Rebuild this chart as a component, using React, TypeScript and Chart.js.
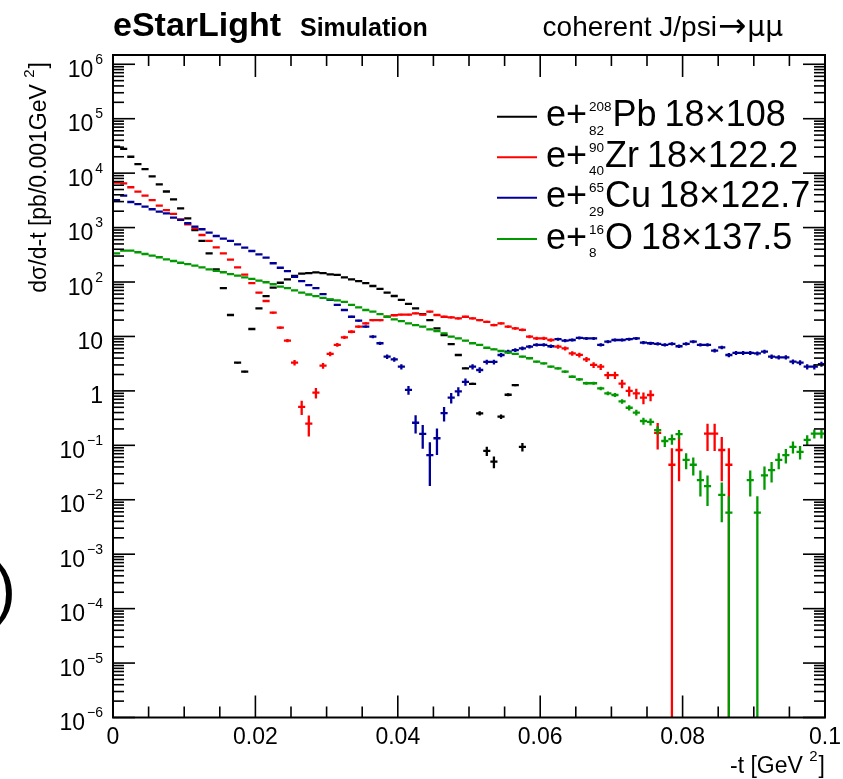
import React, { useEffect, useRef } from "react";
import { Chart, registerables } from "chart.js";

Chart.register(...registerables);

// -t binning: 100 bins of 0.001 GeV^2 from 0 to 0.1
const BIN_WIDTH = 0.001;
const T_MIN = 0;
const T_MAX = 0.1;
const Y_MIN = 1e-6;
const Y_MAX = 1.48e6;

// dσ/d-t per bin [pb / 0.001 GeV^2]; null = empty bin
const pbValues = [
  30600, 27800, 20000, 14700, 11900, 8750, 6200, 4600, 3300, 2260,
  1480, 900, 568, 337, 171, 77, 24.8, 3.3, 2.25, 13.7,
  32.9, 55, 78.7, 97, 112, 130, 142, 146, 150, 146,
  138, 135, 122, 112, 104, 95, 84.5, 74.5, 63.7, 55.3,
  46.8, 39.5, 32.9, 25.8, 20, 14.1, 10.6, 7.2, 4.56, 2.6,
  1.34, 0.387, 0.079, 0.05, 0.336, 0.85, 1.28, 0.094, null, null,
  null, null, null, null, null, null, null, null, null, null,
  null, null, null, null, null, null, null, null, null, null,
  null, null, null, null, null, null, null, null, null, null,
  null, null, null, null, null, null, null, null, null, null,
];

const zrValues = [
  6700, 6500, 5500, 4570, 3850, 3200, 2530, 2100, 1780, 1420,
  1150, 970, 731, 568, 434, 337, 258, 186, 137, 95,
  63.7, 44.8, 27.3, 14.5, 8.4, 3.3, 0.51, 0.25, 0.93, 2.9,
  4.8, 7.0, 9.6, 12.2, 15.1, 17.4, 20, 20, 23, 24.5,
  25.2, 25.2, 26.6, 25.2, 28.5, 24.8, 23, 22.4, 21.5, 23,
  21.5, 20, 18.6, 16.2, 17.4, 15.1, 14.1, 13.2, 9.9, 9.2,
  9.2, 8.6, 6.5, 6.05, 4.9, 4.57, 3.8, 3.0, 2.78, 1.95,
  1.95, 1.36, 1.0, 0.9, 0.75, 0.84, 0.17, null, 0.044, 0.082,
  null, null, null, 0.164, 0.164, 0.082, 0.044, null, null, null,
  null, null, null, null, null, null, null, null, null, null,
];

const cuValues = [
  3200, 3850, 2950, 2700, 2420, 2170, 1960, 1830, 1520, 1380,
  1200, 1040, 932, 805, 700, 625, 568, 493, 427, 371,
  323, 280, 221, 183, 159, 125, 104, 88, 77, 60,
  47, 37.9, 30.6, 23, 19.5, 15.1, 9.9, 7.5, 4.25, 3.8,
  2.78, 1.04, 0.26, 0.162, 0.066, 0.135, 0.39, 0.75, 0.98, 1.47,
  2.78, 2.42, 3.4, 3.4, 4.56, 5.25, 5.6, 6.05, 6.5, 7.0,
  7.0, 6.6, 8.9, 8.4, 8.6, 9.4, 9.2, 9.2, 7.0, 8.0,
  8.6, 8.6, 8.9, 9.2, 7.7, 7.5, 7.3, 7.0, 7.3, 6.6,
  7.3, 8.0, 7.0, 7.0, 5.5, 6.3, 4.56, 5.0, 5.0, 5.0,
  4.9, 5.25, 4.25, 4.14, 4.14, 3.44, 3.3, 2.78, 2.78, 3.1,
];

const oValues = [
  337, 377, 377, 352, 327, 305, 285, 261, 243, 226,
  214, 200, 186, 171, 160, 151, 140, 131, 122, 114,
  106, 99, 91, 82, 77, 70, 64, 59, 55, 51,
  48, 46, 43, 37.9, 34.3, 30.6, 28.5, 25.8, 23, 20.6,
  19.2, 17.4, 16.2, 15.1, 13.5, 12.6, 11.4, 9.9, 9.2, 8.4,
  7.5, 7.0, 6.2, 5.8, 5.4, 5.05, 4.77, 4.25, 3.98, 3.44,
  3.2, 2.78, 2.6, 2.25, 1.82, 1.63, 1.38, 1.38, 1.11, 0.9,
  0.84, 0.64, 0.49, 0.4, 0.28, 0.27, 0.19, 0.12, 0.13, 0.16,
  0.054, 0.044, 0.023, 0.0178, null, 0.0123, 0.0058, null, null, 0.023,
  0.0058, 0.028, 0.035, 0.054, 0.066, 0.094, 0.076, 0.126, 0.164, 0.164,
];

// weight of one generated event in each sample [pb]; bin error = sqrt(sum w^2)
const pbEventWeight = 0.003;
const zrEventWeight = 0.044;
const cuEventWeight = 0.035;
const oEventWeight = 0.0058;

// legend pieces: nucleus mass number, charge, symbol, beam energies
const legendMass = ["208", "90", "65", "16"];
const legendCharge = ["82", "40", "29", "8"];
const legendSymbol = ["Pb", "Zr", "Cu", "O"];
const legendBeams = ["18\u00d7108", "18\u00d7122.2", "18\u00d7122.7", "18\u00d7137.5"];

const xTickValues = [0, 0.02, 0.04, 0.06, 0.08, 0.1];
const xTickLabels = ["0", "0.02", "0.04", "0.06", "0.08", "0.1"];
const yDecades = [-6, -5, -4, -3, -2, -1, 0, 1, 2, 3, 4, 5, 6];

const COLORS = ["#000000", "#ff0000", "#000099", "#009900"];
const FONT = '"Liberation Sans", Arial, Helvetica, sans-serif';
const SYMBOL_FONT = '"DejaVu Sans", "Liberation Sans", sans-serif';

type Pt = { x: number; y: number | null };

function binSegments(vals: (number | null)[]): Pt[] {
  const pts: Pt[] = [];
  vals.forEach((v, i) => {
    if (v == null) return;
    const lo = T_MIN + i * BIN_WIDTH;
    const hi = lo + BIN_WIDTH;
    pts.push({ x: lo, y: v }, { x: hi, y: v }, { x: hi, y: null });
  });
  return pts;
}

function errorBars(vals: (number | null)[], w: number): Pt[] {
  const pts: Pt[] = [];
  vals.forEach((v, i) => {
    if (v == null) return;
    const mid = T_MIN + (i + 0.5) * BIN_WIDTH;
    const e = Math.sqrt(v * w);
    const lo = v - e > Y_MIN * 0.01 ? v - e : Y_MIN * 0.01;
    pts.push({ x: mid, y: lo }, { x: mid, y: v + e }, { x: mid, y: null });
  });
  return pts;
}

type Run = { t: string; size: number; dy?: number; bold?: boolean; gap?: number; family?: string };

function setFont(ctx: CanvasRenderingContext2D, size: number, bold = false, family = FONT) {
  ctx.font = `${bold ? "bold " : ""}${size}px ${family}`;
}

function runsWidth(ctx: CanvasRenderingContext2D, runs: Run[]) {
  let w = 0;
  for (const r of runs) {
    setFont(ctx, r.size, r.bold, r.family);
    w += (r.gap || 0) + ctx.measureText(r.t).width;
  }
  return w;
}

function drawRuns(
  ctx: CanvasRenderingContext2D,
  runs: Run[],
  x: number,
  y: number,
  align: "left" | "right" | "center",
  sx = 1
) {
  const total = runsWidth(ctx, runs) * sx;
  const x0 = align === "left" ? x : align === "right" ? x - total : x - total / 2;
  ctx.save();
  ctx.translate(x0, y);
  ctx.scale(sx, 1);
  ctx.textAlign = "left";
  ctx.textBaseline = "alphabetic";
  let p = 0;
  for (const r of runs) {
    setFont(ctx, r.size, r.bold, r.family);
    p += r.gap || 0;
    ctx.fillText(r.t, p, r.dy || 0);
    p += ctx.measureText(r.t).width;
  }
  ctx.restore();
  return x0 + total;
}

const rootStyle = {
  id: "rootStyle",
  beforeDraw(chart: any) {
    const ctx: CanvasRenderingContext2D = chart.ctx;
    ctx.save();
    ctx.fillStyle = "#ffffff";
    ctx.fillRect(0, 0, chart.width, chart.height);
    ctx.restore();
  },
  afterDraw(chart: any) {
    const ctx: CanvasRenderingContext2D = chart.ctx;
    const { left, right, top, bottom } = chart.chartArea;
    const xs = chart.scales.x;
    const ys = chart.scales.y;
    ctx.save();
    ctx.strokeStyle = "#000";
    ctx.fillStyle = "#000";

    // frame
    ctx.lineWidth = 2;
    ctx.strokeRect(left, top, right - left, bottom - top);

    // ticks, drawn inside the frame on all four sides
    ctx.lineWidth = 1.6;
    const line = (x1: number, y1: number, x2: number, y2: number) => {
      ctx.beginPath();
      ctx.moveTo(x1, y1);
      ctx.lineTo(x2, y2);
      ctx.stroke();
    };
    for (let k = 0; k <= 20; k++) {
      const v = k * 0.005;
      const px = xs.getPixelForValue(v);
      const len = k % 4 === 0 ? 22 : 11;
      line(px, bottom, px, bottom - len);
      line(px, top, px, top + len);
    }
    for (const d of yDecades) {
      for (let m = 1; m <= 9; m++) {
        const v = m * Math.pow(10, d);
        if (v > Y_MAX) break;
        const py = ys.getPixelForValue(v);
        const len = m === 1 ? 22 : 11;
        line(left, py, left + len, py);
        line(right, py, right - len, py);
      }
    }

    // x tick labels
    xTickValues.forEach((v, i) => {
      drawRuns(ctx, [{ t: xTickLabels[i], size: 23 }], xs.getPixelForValue(v), bottom + 26, "center");
    });

    // y tick labels 10^n
    for (const d of yDecades) {
      const py = ys.getPixelForValue(Math.pow(10, d));
      let runs: Run[];
      if (d === 0) runs = [{ t: "1", size: 23 }];
      else if (d === 1) runs = [{ t: "10", size: 23 }];
      else
        runs = [
          { t: "10", size: 23 },
          { t: d < 0 ? "\u2212" + String(-d) : String(d), size: 14, dy: -13, gap: 2 },
        ];
      drawRuns(ctx, runs, left - 10, py + 12.5, "right");
    }

    // x axis title
    drawRuns(
      ctx,
      [
        { t: "-t [GeV ", size: 23 },
        { t: "2", size: 15, dy: -12 },
        { t: "]", size: 23, gap: 1 },
      ],
      right,
      bottom + 55,
      "right"
    );

    // y axis title, rotated, ending at the top of the axis
    ctx.save();
    ctx.translate(46, top + 7);
    ctx.rotate(-Math.PI / 2);
    drawRuns(
      ctx,
      [
        { t: "d\u03c3/d-t [pb/0.001GeV ", size: 23 },
        { t: "2", size: 15, dy: -12 },
        { t: "]", size: 23, gap: 1 },
      ],
      0,
      0,
      "right"
    );
    ctx.restore();

    // header
    drawRuns(ctx, [{ t: "eStarLight", size: 34, bold: true }], left, 36, "left");
    drawRuns(ctx, [{ t: "Simulation", size: 25, bold: true }], 300, 36, "left");
    drawRuns(
      ctx,
      [
        { t: "coherent J/psi", size: 28 },
        { t: "\u2192", size: 34, family: SYMBOL_FONT, gap: 1, dy: 1 },
        { t: "\u03bc\u03bc", size: 28, family: SYMBOL_FONT, gap: 1 },
      ],
      783,
      36,
      "right"
    );

    // legend
    const rowY = [116.7, 157.3, 197.8, 239];
    rowY.forEach((y, i) => {
      ctx.strokeStyle = COLORS[i];
      ctx.lineWidth = 2;
      line(497, y, 537, y);
      ctx.fillStyle = "#000";
      const base = y + 9.5;
      const ex = drawRuns(ctx, [{ t: "e+", size: 36 }], 546, base, "left");
      const sx = ex + 2;
      const m1 = drawRuns(ctx, [{ t: legendMass[i], size: 13.5 }], sx, base - 15, "left");
      const m2 = drawRuns(ctx, [{ t: legendCharge[i], size: 13.5 }], sx, base + 8.5, "left");
      drawRuns(
        ctx,
        [
          { t: legendSymbol[i], size: 36 },
          { t: legendBeams[i], size: 36, gap: 8 },
        ],
        Math.max(m1, m2) + 1,
        base,
        "left"
      );
    });

    // stray bracket at the left edge
    setFont(ctx, 66);
    ctx.textAlign = "left";
    ctx.fillText(")", -6, 611);

    ctx.restore();
  },
};

export default function App() {
  const canvasRef = useRef<HTMLCanvasElement | null>(null);

  useEffect(() => {
    if (!canvasRef.current) return;
    const series = [
      { vals: pbValues, w: pbEventWeight, color: COLORS[0], order: 4 },
      { vals: zrValues, w: zrEventWeight, color: COLORS[1], order: 3 },
      { vals: cuValues, w: cuEventWeight, color: COLORS[2], order: 2 },
      { vals: oValues, w: oEventWeight, color: COLORS[3], order: 1 },
    ];
    const datasets: any[] = [];
    series.forEach((s) => {
      const common = {
        borderColor: s.color,
        backgroundColor: s.color,
        borderWidth: 2.3,
        pointRadius: 0,
        pointHoverRadius: 0,
        fill: false,
        tension: 0,
        spanGaps: false,
        order: s.order,
        clip: 0,
      };
      datasets.push({ ...common, data: binSegments(s.vals) });
      datasets.push({ ...common, data: errorBars(s.vals, s.w) });
    });

    const chart = new Chart(canvasRef.current, {
      type: "line",
      data: { datasets },
      options: {
        animation: false,
        responsive: false,
        devicePixelRatio: 1,
        events: [],
        layout: { padding: { left: 113, right: 18, top: 55, bottom: 61.5 } },
        plugins: { legend: { display: false }, tooltip: { enabled: false } },
        scales: {
          x: { type: "linear", min: T_MIN, max: T_MAX, display: false },
          y: { type: "logarithmic", min: Y_MIN, max: Y_MAX, display: false },
        },
      },
      plugins: [rootStyle],
    });
    return () => chart.destroy();
  }, []);

  return (
    <div style={{ position: "absolute", left: 0, top: 0, width: 843, height: 779, background: "#fff" }}>
      <canvas ref={canvasRef} width={843} height={779} style={{ display: "block" }} />
    </div>
  );
}
